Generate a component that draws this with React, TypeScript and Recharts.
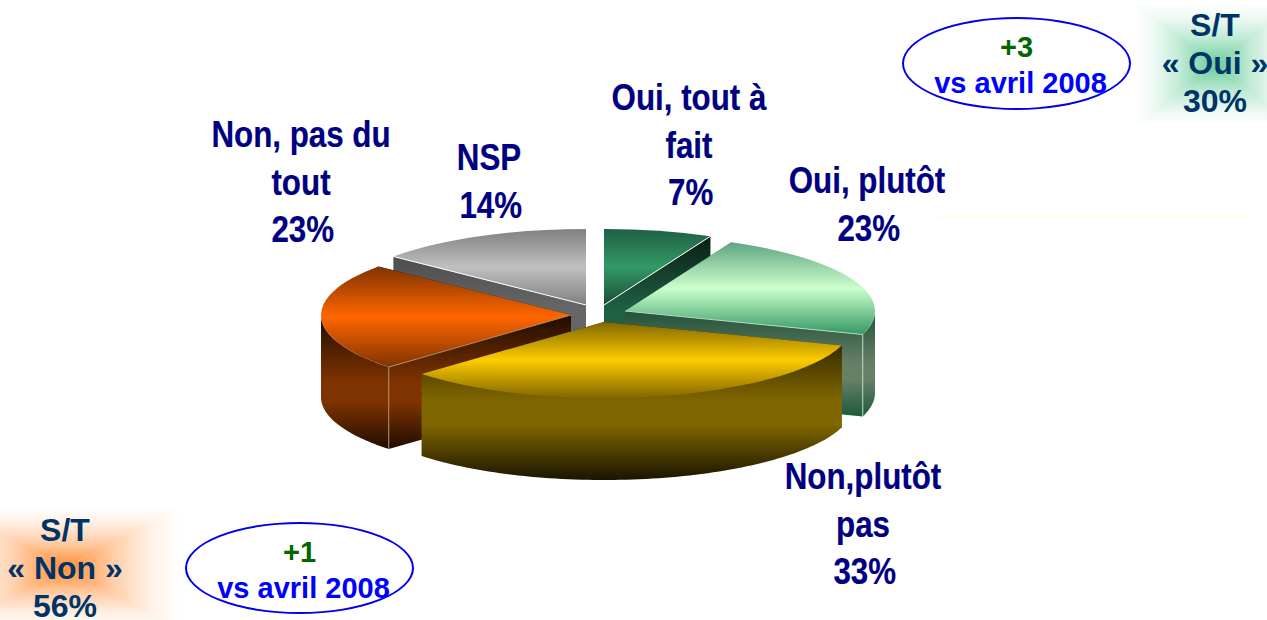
import { PieChart, Pie } from 'recharts';

const sliceNames = ['Oui, tout à fait', 'Oui, plutôt', 'Non,plutôt pas', 'Non, pas du tout', 'NSP'];
const sliceValues = [7, 23, 33, 23, 14];

const tableData = sliceNames.map((name, i) => ({ name, value: sliceValues[i] }));

// back slices first, the yellow one sits in front of everything
const drawOrder = [4, 0, 1, 3, 2];

const RX = 250;
const RY = 76;
const DEPTH = 82;
const CX = 600;
const CY = 313;

const sliceLook = [
  { dx: 4, dy: -8, back: true, top: ['#1f5f44', '#339966', '#1a4d35'], wall: ['#08170f', '#1f5f44', '#1f5f44'], edge: '#ffffff' },
  { dx: 25, dy: -2, back: false, top: ['#5fa582', '#ccffcc', '#339966'], wall: ['#23523a', '#668066', '#1c5a3e'], edge: '#b5d8c0' },
  { dx: 4, dy: 9, back: false, top: ['#806600', '#ffcc00', '#806600'], wall: ['#1a1400', '#806600', '#1a1400'], edge: 'none' },
  { dx: -29, dy: 2, back: false, top: ['#7f3300', '#ff6600', '#7f3300'], wall: ['#1f0c00', '#7f3300', '#1f0c00'], edge: '#b08a70' },
  { dx: -14, dy: -8, back: true, top: ['#808080', '#c0c0c0', '#808080'], wall: ['#404040', '#666666', '#666666'], edge: '#ffffff' },
];

function pt(x: number, y: number, deg: number) {
  const a = (deg * Math.PI) / 180;
  return [x + RX * Math.cos(a), y - RY * Math.sin(a)];
}

const facesViewer = (d: number) => ((d % 360) + 360) % 360 >= 180;

// drawn by hand because the pie is tilted, the angles still come from recharts
function TiltedSlice(props: any) {
  const i = sliceNames.indexOf(props.name ?? props.payload?.name);
  const look = sliceLook[i];
  const x = props.cx + look.dx;
  const y = props.cy + look.dy;
  const from: number = props.startAngle;
  const to: number = props.endAngle;
  const [x0, y0] = pt(x, y, from);
  const [x1, y1] = pt(x, y, to);

  const topPath = `M${x} ${y}L${x0} ${y0}A${RX} ${RY} 0 0 1 ${x1} ${y1}Z`;
  const radial = (px: number, py: number) =>
    `M${x} ${y}L${px} ${py}L${px} ${py + DEPTH}L${x} ${y + DEPTH}Z`;

  // outer rim, only where the arc is turned to the viewer
  const arcPts: number[][] = [];
  const rim: number[][] = [];
  for (let s = 0; s <= 80; s++) {
    const d = from + ((to - from) * s) / 80;
    const p = pt(x, y, d);
    arcPts.push(p);
    if (facesViewer(d)) rim.push(p);
  }
  const rimPath =
    rim.length > 1
      ? `M${rim.map(p => `${p[0]} ${p[1]}`).join('L')}L${[...rim]
          .reverse()
          .map(p => `${p[0]} ${p[1] + DEPTH}`)
          .join('L')}Z`
      : '';

  const arcYs = arcPts.map(p => p[1]);
  const topMin = Math.min(y, ...arcYs);
  const topMax = Math.max(y, ...arcYs);
  const wallMin = look.back ? topMin : y;
  const wallMax = topMax + DEPTH;

  // the corner facing us is the one that sits lowest
  const [fx, fy] = y0 > y1 ? [x0, y0] : [x1, y1];

  return (
    <g>
      <defs>
        <linearGradient id={`top-${i}`} gradientUnits="userSpaceOnUse" x1="0" x2="0" y1={topMin} y2={topMax}>
          <stop offset="0" stopColor={look.top[0]} />
          <stop offset="0.5" stopColor={look.top[1]} />
          <stop offset="1" stopColor={look.top[2]} />
        </linearGradient>
        <linearGradient id={`wall-${i}`} gradientUnits="userSpaceOnUse" x1="0" x2="0" y1={wallMin} y2={wallMax}>
          <stop offset="0" stopColor={look.wall[0]} />
          <stop offset="0.5" stopColor={look.wall[1]} />
          <stop offset="0.65" stopColor={look.wall[1]} />
          <stop offset="1" stopColor={look.wall[2]} />
        </linearGradient>
      </defs>
      <path d={radial(x0, y0)} fill={`url(#wall-${i})`} />
      <path d={radial(x1, y1)} fill={`url(#wall-${i})`} />
      {rimPath && <path d={rimPath} fill={`url(#wall-${i})`} />}
      <path d={topPath} fill={`url(#top-${i})`} stroke="none" />
      {look.edge !== 'none' && (
        <line x1={x} y1={y} x2={fx} y2={fy} stroke={look.edge} strokeWidth={1} />
      )}
      {look.edge !== 'none' && !look.back && (
        <line x1={fx} y1={fy} x2={fx} y2={fy + DEPTH} stroke={look.edge} strokeWidth={1} />
      )}
    </g>
  );
}

const labelFont = 'Liberation Sans, Arial, sans-serif';

function SliceLabel({ lines, x, y }: { lines: string[]; x: number; y: number }) {
  return (
    <div
      style={{
        position: 'absolute',
        left: x - 150,
        top: y,
        width: 300,
        textAlign: 'center',
        fontFamily: labelFont,
        fontWeight: 700,
        fontSize: 36,
        lineHeight: '47.5px',
        color: '#000080',
        transform: 'scaleX(0.87)',
        WebkitTextStroke: '0.2px #000080',
        whiteSpace: 'nowrap',
      }}
    >
      {lines.map(l => (
        <div key={l} style={{ position: 'relative', left: l.endsWith('%') ? 2 : 0 }}>
          {l}
        </div>
      ))}
    </div>
  );
}

// rectangular path gradient: four triangles fading out to the sides
function Glow({ x, y, hw, hh, color }: { x: number; y: number; hw: number; hh: number; color: string }) {
  const tri = [
    { clip: '0 0,100% 0,50% 50%', dir: 'to bottom' },
    { clip: '0 100%,100% 100%,50% 50%', dir: 'to top' },
    { clip: '0 0,0 100%,50% 50%', dir: 'to right' },
    { clip: '100% 0,100% 100%,50% 50%', dir: 'to left' },
  ];
  return (
    <div style={{ position: 'absolute', left: x - hw, top: y - hh, width: hw * 2, height: hh * 2 }}>
      {tri.map(t => (
        <div
          key={t.dir}
          style={{
            position: 'absolute',
            inset: 0,
            clipPath: `polygon(${t.clip})`,
            background: `linear-gradient(${t.dir}, ${color}00 0%, ${color}1c 12%, ${color}66 28%, ${color} 50%)`,
          }}
        />
      ))}
    </div>
  );
}

function Summary({ lines, x, y }: { lines: string[]; x: number; y: number }) {
  return (
    <div
      style={{
        position: 'absolute',
        left: x - 100,
        top: y,
        width: 200,
        textAlign: 'center',
        fontFamily: labelFont,
        fontWeight: 700,
        fontSize: 32,
        lineHeight: '38px',
        color: '#003366',
        whiteSpace: 'nowrap',
      }}
    >
      {lines.map((l, i) =>
        i === 2 ? (
          // last line kept short so the box stays inside the page
          <div key={l} style={{ lineHeight: '28px', marginTop: 5 }}>
            {l}
          </div>
        ) : (
          <div key={l}>{l}</div>
        ),
      )}
    </div>
  );
}

function Delta({ x, y, w, h, value }: { x: number; y: number; w: number; h: number; value: string }) {
  return (
    <>
      <div
        style={{
          position: 'absolute',
          left: x,
          top: y,
          width: w,
          height: h,
          boxSizing: 'border-box',
          border: '2px solid #0000ee',
          borderRadius: '50%',
        }}
      />
      <div
        style={{
          position: 'absolute',
          left: x,
          top: y + 12,
          width: w,
          textAlign: 'center',
          fontFamily: labelFont,
          fontWeight: 700,
          fontSize: 29,
          lineHeight: '36px',
          whiteSpace: 'nowrap',
        }}
      >
        <div style={{ color: '#006600' }}>{value}</div>
        <div style={{ color: '#0000ff', position: 'relative', left: 4 }}>vs avril 2008</div>
      </div>
    </>
  );
}

export default function App() {
  return (
    <div
      style={{
        position: 'absolute',
        left: 0,
        top: 0,
        width: 1267,
        height: 620,
        overflow: 'hidden',
        background: '#ffffff',
      }}
    >
      <div
        style={{
          position: 'absolute',
          left: 935,
          top: 216,
          width: 315,
          borderTop: '1px dotted #ffffb0',
        }}
      />
      <div style={{ position: 'absolute', left: 0, top: 0 }}>
        <PieChart width={1267} height={620} margin={{ top: 0, right: 0, bottom: 0, left: 0 }}>
          {drawOrder.map(idx => (
            <Pie
              key={idx}
              data={tableData}
              dataKey="value"
              nameKey="name"
              cx={CX}
              cy={CY}
              outerRadius={RX}
              startAngle={90}
              endAngle={-270}
              stroke="none"
              isAnimationActive={false}
              shape={(p: any) =>
                (p.name ?? p.payload?.name) === sliceNames[idx] ? <TiltedSlice {...p} /> : <g />
              }
            />
          ))}
        </PieChart>
      </div>

      <SliceLabel lines={['Oui, tout à', 'fait', '7%']} x={689} y={74} />
      <SliceLabel lines={['Oui, plutôt', '23%']} x={867} y={157} />
      <SliceLabel lines={['Non,plutôt', 'pas', '33%']} x={863} y={453} />
      <SliceLabel lines={['Non, pas du', 'tout', '23%']} x={301} y={111} />
      <SliceLabel lines={['NSP', '14%']} x={489} y={134} />

      <Glow x={1215} y={65} hw={80} hh={62} color="#66cc99" />
      <Glow x={65} y={568} hw={115} hh={62} color="#ff8c33" />
      <Summary lines={['S/T', '« Oui »', '30%']} x={1215} y={6} />
      <Summary lines={['S/T', '« Non »', '56%']} x={65} y={511} />

      <Delta x={902} y={17} w={229} h={93} value="+3" />
      <Delta x={185} y={522} w={229} h={92} value="+1" />
    </div>
  );
}
